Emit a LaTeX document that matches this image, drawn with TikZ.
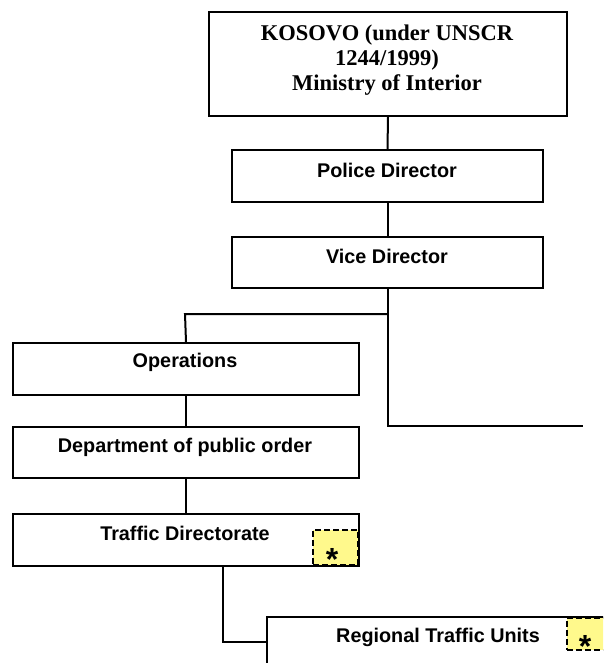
\documentclass[tikz,border=0pt]{standalone}
\usepackage{fontspec}
\setmainfont{Liberation Serif}
\setsansfont{Liberation Sans}
\begin{document}
\begin{tikzpicture}[x=1pt,y=-1pt,
  orgbox/.style={draw=black,line width=2pt,rectangle,inner sep=0pt,anchor=north west},
  serifbold/.style={font=\fontsize{22.5}{25}\selectfont\rmfamily\bfseries,align=center,inner sep=0pt},
  sansbold/.style={font=\fontsize{19.8}{22}\selectfont\sffamily\bfseries,inner sep=0pt},
  notebox/.style={draw=black,line width=1.8pt,dash pattern=on 6pt off 3pt,fill=yellow!45,rectangle,inner sep=0pt,anchor=north west},
  starmark/.style={font=\fontsize{32}{32}\selectfont\sffamily\bfseries,inner sep=0pt,anchor=base},
  link/.style={line width=2pt}]
\useasboundingbox (0,0) rectangle (603,663);
\clip (0,0) rectangle (603,663);

% boxes
\node[orgbox,minimum width=358pt,minimum height=104pt] (min) at (208,11) {};
\node[orgbox,minimum width=311pt,minimum height=52pt] (pd) at (231,149) {};
\node[orgbox,minimum width=311pt,minimum height=51pt] (vd) at (231,236) {};
\node[orgbox,minimum width=346pt,minimum height=52pt] (op) at (12,342) {};
\node[orgbox,minimum width=346pt,minimum height=51pt] (dp) at (12,426) {};
\node[orgbox,minimum width=346pt,minimum height=52pt] (td) at (12,513) {};
\node[orgbox,minimum width=380pt,minimum height=80pt] (rt) at (266,616) {};

% notes
\node[notebox,minimum width=45pt,minimum height=35pt] (n1) at (312,529) {};
\node[notebox,minimum width=50pt,minimum height=32pt] (n2) at (566,617) {};
\node[starmark] (s1) at (332,570.5) {*};
\node[starmark] (s2) at (585,657.5) {*};

% labels
\node[serifbold] (tmin) at (387,60) {KOSOVO (under UNSCR\\1244/1999)\\Ministry of Interior};
\node[sansbold] (tpd) at (387,170) {Police Director};
\node[sansbold] (tvd) at (387,256) {Vice Director};
\node[sansbold] (top) at (185,362) {Operations};
\node[sansbold] (tdp) at (185,447) {Department of public order};
\node[sansbold] (ttd) at (185,533) {Traffic Directorate};
\node[sansbold] (trt) at (438,637) {Regional Traffic Units};

% connector ends
\coordinate (branch) at (185,314);
\coordinate (east) at (583,426);
\coordinate (drop) at (223,642);

% connectors
\draw[link] (min.south) -- (pd.north);
\draw[link] (pd.south) -- (vd.north);
\draw[link] (vd.south) |- (east);
\draw[link] (vd.south |- branch) -- (branch) -- (op.north);
\draw[link] (op.south) -- (dp.north);
\draw[link] (dp.south) -- (td.north);
\draw[link] (td.south -| drop) -- (drop) -- (rt.west |- drop);
\end{tikzpicture}
\end{document}
